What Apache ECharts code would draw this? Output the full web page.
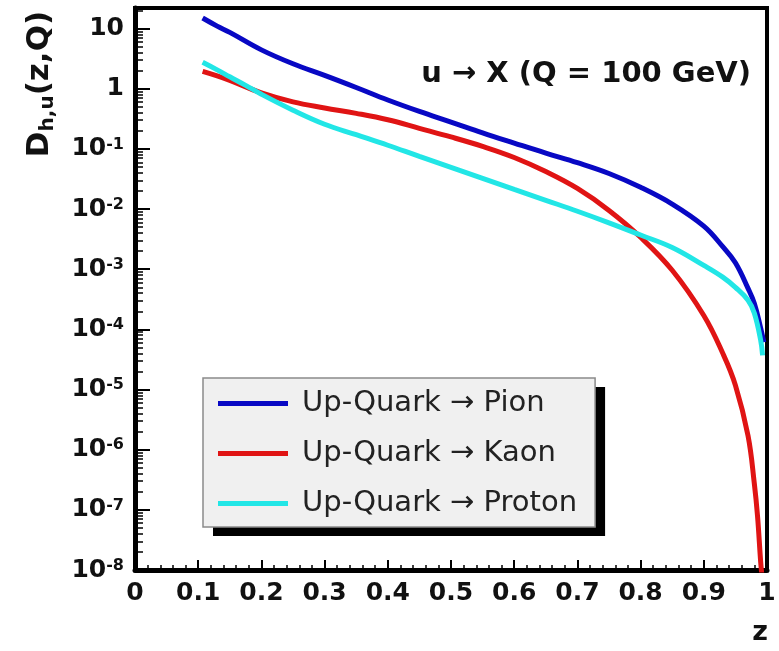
<!DOCTYPE html>
<html>
<head>
<meta charset="utf-8">
<script src="https://cdn.jsdelivr.net/npm/echarts@6/dist/echarts.min.js"></script>
<style>
  html, body { margin: 0; padding: 0; background: #ffffff; }
  #chart { width: 779px; height: 651px; }
</style>
</head>
<body>
<div id="chart"></div>
<script>
// Fragmentation functions D_{h,u}(z, Q) at Q = 100 GeV
const seriesNames = ['Up-Quark \u2192 Pion', 'Up-Quark \u2192 Kaon', 'Up-Quark \u2192 Proton'];
const seriesColors = ['#0808c4', '#e01414', '#22e6e6'];

const zPion = [0.107, 0.13, 0.15, 0.2, 0.25, 0.3, 0.35, 0.4, 0.45, 0.5, 0.55, 0.6, 0.65, 0.7, 0.75, 0.8, 0.85, 0.9, 0.93, 0.95, 0.97, 0.98, 0.99, 0.995];
const pionValues = [15, 11, 8.65, 4.43, 2.6, 1.67, 1.05, 0.65, 0.42, 0.28, 0.185, 0.125, 0.085, 0.059, 0.039, 0.023, 0.0121, 0.0052, 0.00237, 0.00128, 4.8e-4, 2.7e-4, 1.05e-4, 6.1e-5];

const zKaon = [0.107, 0.13, 0.15, 0.2, 0.25, 0.3, 0.35, 0.4, 0.45, 0.5, 0.55, 0.6, 0.65, 0.7, 0.75, 0.8, 0.85, 0.9, 0.93, 0.95, 0.97, 0.98, 0.985, 0.99, 0.992];
const kaonValues = [1.95, 1.64, 1.38, 0.855, 0.605, 0.48, 0.39, 0.305, 0.22, 0.158, 0.11, 0.072, 0.042, 0.022, 0.0095, 0.0034, 9.6e-4, 1.7e-4, 4.0e-5, 1.18e-5, 1.7e-6, 2.7e-7, 7.9e-8, 1.36e-8, 8e-9];

const zProton = [0.107, 0.13, 0.15, 0.175, 0.2, 0.25, 0.3, 0.35, 0.4, 0.45, 0.5, 0.55, 0.6, 0.65, 0.7, 0.75, 0.8, 0.85, 0.9, 0.93, 0.95, 0.97, 0.98, 0.99, 0.993];
const protonValues = [2.75, 2.06, 1.58, 1.14, 0.81, 0.44, 0.257, 0.172, 0.115, 0.075, 0.0494, 0.0325, 0.0213, 0.014, 0.0092, 0.0059, 0.0037, 0.0023, 0.00116, 7.4e-4, 5.0e-4, 3.05e-4, 1.86e-4, 6.6e-5, 3.7e-5];

// Axis ticks
const yMajorTicks = [1e-8, 1e-7, 1e-6, 1e-5, 1e-4, 1e-3, 1e-2, 1e-1, 1, 10];
const yMinorMantissas = [2, 3, 4, 5, 6, 7, 8, 9];
const yMin = 1e-8, yMax = 22;

const yMinorTicks = [];
yMajorTicks.forEach(function (d) {
  yMinorMantissas.forEach(function (m) {
    const v = d * m;
    if (v < yMax) yMinorTicks.push(v);
  });
});

function pairs(zs, vs) { return zs.map(function (z, i) { return [z, vs[i]]; }); }

function yLabel(v) {
  const e = Math.round(Math.log10(v));
  if (e === 0) return '1';
  if (e === 1) return '10';
  return '10{sup|' + e + '}';
}

const FONT = 'DejaVu Sans';
const tickFont = { fontFamily: FONT, fontWeight: 'bold', fontSize: 25, color: '#111' };

const chart = echarts.init(document.getElementById('chart'), null, { renderer: 'canvas' });

const lineSeries = [[zPion, pionValues], [zKaon, kaonValues], [zProton, protonValues]].map(function (d, i) {
  return {
    name: seriesNames[i],
    type: 'line',
    data: pairs(d[0], d[1]),
    showSymbol: false,
    symbol: 'none',
    smooth: 0.4,
    clip: true,
    color: seriesColors[i],
    lineStyle: { width: 5, color: seriesColors[i], cap: 'butt' },
    z: 3 + i
  };
});

// Shared legend layout; the back copy only paints the drop shadow
const legendBase = {
  top: 378,
  orient: 'vertical',
  data: seriesNames,
  icon: 'rect',
  itemWidth: 70, itemHeight: 5,
  itemGap: 19,
  padding: [10, 18, 8, 15],
  borderRadius: 0,
  selectedMode: false,
  textStyle: { fontFamily: FONT, fontSize: 29, color: '#222', lineHeight: 31, padding: [0, 0, 0, 9] }
};

chart.setOption({
  backgroundColor: '#ffffff',
  animation: false,
  title: {
    text: 'u \u2192 X (Q = 100 GeV)',
    right: 23,
    top: 55,
    textStyle: { fontFamily: FONT, fontWeight: 'bold', fontSize: 29, color: '#111' }
  },
  grid: {
    left: 135, right: 12, top: 8, bottom: 81,
    show: true, borderColor: '#000', borderWidth: 4,
    containLabel: false,
    outerBoundsMode: 'none'
  },
  legend: [
    Object.assign({}, legendBase, {
      left: 213, top: 387,
      backgroundColor: '#000',
      borderWidth: 0,
      itemStyle: { opacity: 0 },
      lineStyle: { opacity: 0 },
      textStyle: Object.assign({}, legendBase.textStyle, { color: 'rgba(0,0,0,0)' }),
      z: 4
    }),
    Object.assign({}, legendBase, {
      left: 203,
      backgroundColor: '#f0f0f0',
      borderColor: '#8a8a8a', borderWidth: 1.5,
      z: 5
    })
  ],
  xAxis: {
    type: 'value',
    min: 0, max: 1, interval: 0.1,
    axisLine: { show: true, lineStyle: { color: '#000', width: 5 } },
    axisTick: { show: true, inside: true, length: 10, lineStyle: { color: '#000', width: 2 } },
    minorTick: { show: true, splitNumber: 5, length: 5, lineStyle: { color: '#000', width: 1.5 } },
    splitLine: { show: false },
    axisLabel: Object.assign({ margin: 11 }, tickFont)
  },
  yAxis: [{
    type: 'log',
    min: yMin, max: yMax,
    axisLine: { show: true, lineStyle: { color: '#000', width: 5 } },
    axisTick: { show: true, inside: true, length: 15, customValues: yMajorTicks, lineStyle: { color: '#000', width: 2 } },
    splitLine: { show: false },
    axisLabel: Object.assign({
      margin: 11,
      customValues: yMajorTicks,
      formatter: yLabel,
      rich: {
        sup: { fontFamily: FONT, fontWeight: 'bold', fontSize: 16, color: '#111', verticalAlign: 'top', lineHeight: 16, padding: [0, 0, 12, 0] }
      }
    }, tickFont)
  }, {
    type: 'log',
    min: yMin, max: yMax,
    position: 'left',
    offset: 0,
    axisLine: { show: false },
    axisTick: { show: true, inside: true, length: 8, customValues: yMinorTicks, lineStyle: { color: '#000', width: 1.5 } },
    splitLine: { show: false },
    axisLabel: { show: false }
  }],
  series: lineSeries,
  graphic: [{
    type: 'text',
    x: 40, y: 84,
    rotation: Math.PI / 2,
    style: {
      text: 'D{sub|h,u}(z,Q)',
      fontFamily: FONT, fontWeight: 'bold', fontSize: 31, fill: '#111',
      align: 'center', verticalAlign: 'middle',
      rich: {
        sub: { fontFamily: FONT, fontWeight: 'bold', fontSize: 20, fill: '#111', verticalAlign: 'bottom', padding: [16, 0, 0, 0] }
      }
    }
  }, {
    type: 'text',
    x: 760, y: 633,
    style: {
      text: 'z',
      fontFamily: FONT, fontWeight: 'bold', fontSize: 27, fill: '#111',
      align: 'center', verticalAlign: 'middle'
    }
  }]
});
</script>
</body>
</html>
